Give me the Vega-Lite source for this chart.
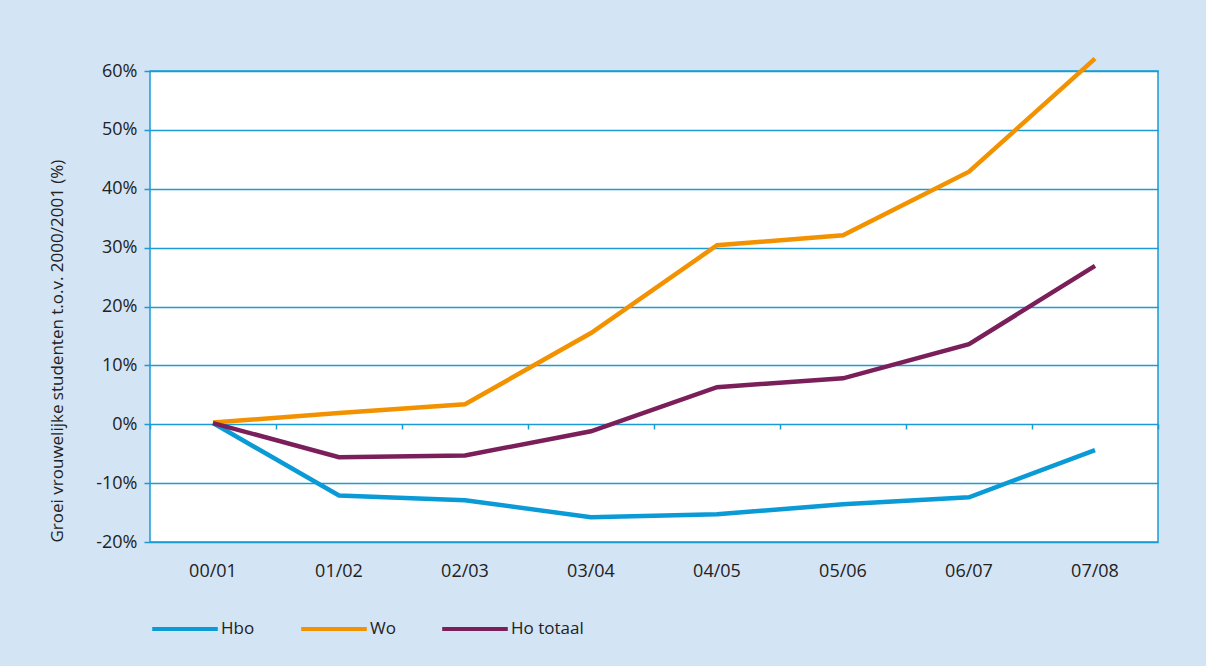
{
  "$schema": "https://vega.github.io/schema/vega-lite/v6.json",
  "width": 1008,
  "height": 471,
  "autosize": "none",
  "padding": {"left": 150, "top": 71, "right": 48, "bottom": 124},
  "background": "#d3e4f4",
  "config": {
    "font": "Open Sans",
    "view": {"stroke": "#1a9ad6", "strokeWidth": 1.5, "fill": "white"}
  },
  "data": {
    "values": [
      {"jaar": "00/01", "reeks": "Hbo", "groei": 0.2},
      {"jaar": "01/02", "reeks": "Hbo", "groei": -12.1},
      {"jaar": "02/03", "reeks": "Hbo", "groei": -12.9},
      {"jaar": "03/04", "reeks": "Hbo", "groei": -15.8},
      {"jaar": "04/05", "reeks": "Hbo", "groei": -15.3},
      {"jaar": "05/06", "reeks": "Hbo", "groei": -13.6},
      {"jaar": "06/07", "reeks": "Hbo", "groei": -12.4},
      {"jaar": "07/08", "reeks": "Hbo", "groei": -4.4},
      {"jaar": "00/01", "reeks": "Wo", "groei": 0.3},
      {"jaar": "01/02", "reeks": "Wo", "groei": 1.9},
      {"jaar": "02/03", "reeks": "Wo", "groei": 3.4},
      {"jaar": "03/04", "reeks": "Wo", "groei": 15.5},
      {"jaar": "04/05", "reeks": "Wo", "groei": 30.4},
      {"jaar": "05/06", "reeks": "Wo", "groei": 32.1},
      {"jaar": "06/07", "reeks": "Wo", "groei": 42.9},
      {"jaar": "07/08", "reeks": "Wo", "groei": 62.1},
      {"jaar": "00/01", "reeks": "Ho totaal", "groei": 0.2},
      {"jaar": "01/02", "reeks": "Ho totaal", "groei": -5.6},
      {"jaar": "02/03", "reeks": "Ho totaal", "groei": -5.3},
      {"jaar": "03/04", "reeks": "Ho totaal", "groei": -1.2},
      {"jaar": "04/05", "reeks": "Ho totaal", "groei": 6.3},
      {"jaar": "05/06", "reeks": "Ho totaal", "groei": 7.8},
      {"jaar": "06/07", "reeks": "Ho totaal", "groei": 13.6},
      {"jaar": "07/08", "reeks": "Ho totaal", "groei": 26.9}
    ]
  },
  "resolve": {"axis": {"x": "independent"}},
  "layer": [
    {
      "mark": {"type": "line", "strokeWidth": 4.5, "clip": false, "strokeJoin": "miter"},
      "encoding": {
        "x": {
          "field": "jaar", "type": "ordinal", "sort": null, "bandPosition": 0.5,
          "scale": {"type": "band", "paddingInner": 0, "paddingOuter": 0},
          "axis": {
            "title": null, "domain": false, "ticks": false, "labelAngle": 0,
            "labelFontSize": 18, "labelColor": "#222222", "labelPadding": 20
          }
        },
        "y": {
          "field": "groei", "type": "quantitative",
          "scale": {"domain": [-20, 60], "nice": false, "zero": false},
          "axis": {
            "title": "Groei vrouwelijke studenten t.o.v. 2000/2001 (%)",
            "titleFontSize": 17, "titleFontWeight": "normal", "titleColor": "#222222", "titlePadding": 29,
            "titleAnchor": "start",
            "values": [-20, -10, 0, 10, 20, 30, 40, 50, 60],
            "labelExpr": "datum.value + '%'",
            "labelFontSize": 18, "labelColor": "#222222", "labelPadding": 7,
            "domain": false, "tickColor": "#1a9ad6", "tickSize": 6, "tickWidth": 1.5,
            "grid": true, "gridColor": "#1a9ad6", "gridWidth": 1.3, "gridOpacity": 1
          }
        },
        "color": {
          "field": "reeks", "type": "nominal",
          "scale": {"domain": ["Hbo", "Wo", "Ho totaal"], "range": ["#0a9ad6", "#f39200", "#7a1f5a"]},
          "legend": {
            "title": null, "orient": "bottom", "direction": "horizontal",
            "symbolType": "stroke", "symbolSize": 4300, "symbolStrokeWidth": 4,
            "labelFontSize": 17, "labelColor": "#222222", "labelOffset": 1,
            "columnPadding": 38, "offset": 14
          }
        }
      }
    },
    {
      "mark": {"type": "point", "opacity": 0},
      "encoding": {
        "x": {
          "field": "jaar", "type": "ordinal", "sort": null, "bandPosition": 0.5,
          "axis": {
            "title": null, "orient": "bottom", "offset": -118, "labels": false, "domain": false,
            "ticks": true, "tickBand": "extent", "tickSize": 5, "tickColor": "#1a9ad6", "tickWidth": 1.5
          }
        },
        "y": {"field": "groei", "type": "quantitative"}
      }
    }
  ]
}
